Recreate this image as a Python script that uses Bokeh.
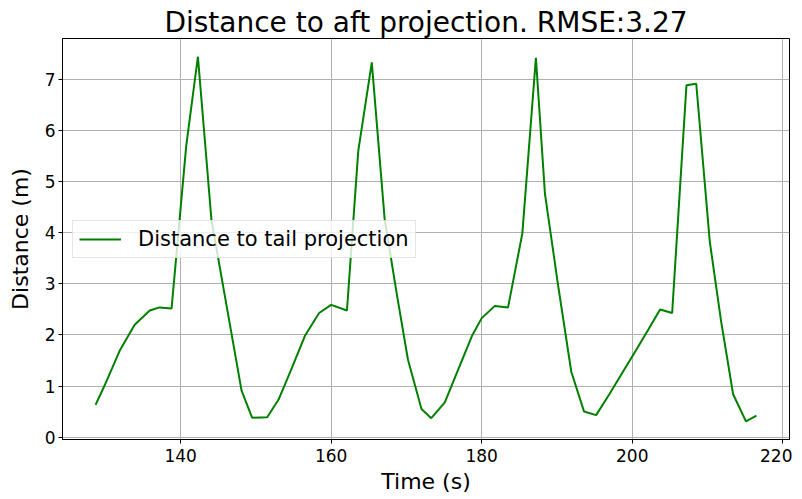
from bokeh.plotting import figure
from bokeh.models import Range1d, FixedTicker, Legend, LegendItem
from bokeh.embed import file_html
from bokeh.resources import INLINE

time_s = [128.7, 129.9, 131.9, 133.9, 135.9, 137.2, 138.8, 140.75, 142.3, 144.1,
          146.1, 148.1, 149.5, 151.5, 153.0, 154.8, 156.5, 158.4, 160.0, 162.1,
          163.6, 165.4, 167.1, 168.7, 170.2, 172.0, 173.3, 175.1, 176.9, 178.7,
          180.0, 181.75, 183.5, 185.4, 187.2, 188.4, 190.1, 191.9, 193.6, 195.2,
          197.0, 198.8, 200.5, 202.2, 203.7, 205.3, 207.2, 208.5, 210.3, 211.8,
          213.4, 215.1, 216.5]
distance_m = [0.63, 1.01, 1.69, 2.20, 2.48, 2.54, 2.52, 5.71, 7.45, 4.25,
              2.58, 0.91, 0.38, 0.39, 0.73, 1.36, 1.98, 2.43, 2.59, 2.48,
              5.60, 7.34, 4.28, 2.82, 1.52, 0.55, 0.37, 0.68, 1.33, 1.98,
              2.33, 2.57, 2.54, 3.99, 7.43, 4.77, 3.02, 1.28, 0.50, 0.43,
              0.85, 1.29, 1.70, 2.12, 2.50, 2.43, 6.89, 6.92, 3.83, 2.27,
              0.84, 0.31, 0.42]
x_ticks = [140, 160, 180, 200, 220]
y_ticks = [0, 1, 2, 3, 4, 5, 6, 7]
title_text = "Distance to aft projection. RMSE:3.27"
series_label = "Distance to tail projection"

FONT = "DejaVu Sans"

xspan = max(time_s) - min(time_s)
yspan = max(distance_m) - min(distance_m)
x_range = Range1d(min(time_s) - 0.05 * xspan, max(time_s) + 0.05 * xspan)
y_range = Range1d(min(distance_m) - 0.05 * yspan, max(distance_m) + 0.05 * yspan)

p = figure(width=792, height=497, x_range=x_range, y_range=y_range,
           output_backend="svg", toolbar_location=None,
           min_border_left=62, min_border_right=3, min_border_top=38, min_border_bottom=58)

p.title.text = title_text
p.title.text_font = FONT
p.title.text_font_size = "28px"
p.title.text_font_style = "normal"
p.title.text_color = "black"
p.title.align = "center"
p.title.standoff = 0
p.title.offset = 0

p.outline_line_color = "black"
p.outline_line_width = 1
p.outline_line_alpha = 1

for ax in (p.xaxis, p.yaxis):
    ax.axis_line_color = "black"
    ax.major_tick_line_color = "black"
    ax.major_tick_out = 4
    ax.major_tick_in = 0
    ax.minor_tick_out = 0
    ax.minor_tick_in = 0
    ax.major_label_text_font = FONT
    ax.major_label_text_font_size = "17px"
    ax.major_label_text_color = "black"
    ax.axis_label_text_font = FONT
    ax.axis_label_text_font_size = "22px"
    ax.axis_label_text_font_style = "normal"
    ax.axis_label_text_color = "black"

p.xaxis.ticker = FixedTicker(ticks=x_ticks)
p.yaxis.ticker = FixedTicker(ticks=y_ticks)
p.xaxis.axis_label = "Time (s)"
p.yaxis.axis_label = "Distance (m)"
p.xaxis.major_label_standoff = 5
p.xaxis.axis_label_standoff = 4
p.yaxis.major_label_standoff = 3
p.yaxis.axis_label_standoff = 9

p.xgrid.ticker = FixedTicker(ticks=x_ticks)
p.ygrid.ticker = FixedTicker(ticks=y_ticks)
p.grid.grid_line_color = "#b0b0b0"
p.grid.grid_line_width = 1

r = p.line(time_s, distance_m, line_color="#008000", line_width=2)

legend = Legend(items=[LegendItem(label=series_label, renderers=[r])], location="left")
legend.label_text_font = FONT
legend.label_text_font_size = "21px"
legend.label_text_color = "black"
legend.glyph_width = 42
legend.glyph_height = 22
legend.label_standoff = 17
legend.padding = 6
legend.margin = 10
legend.border_line_color = "#cccccc"
legend.border_line_width = 1
legend.background_fill_alpha = 0.8
p.add_layout(legend, "center")

open("out.html", "w").write(file_html(p, INLINE))
